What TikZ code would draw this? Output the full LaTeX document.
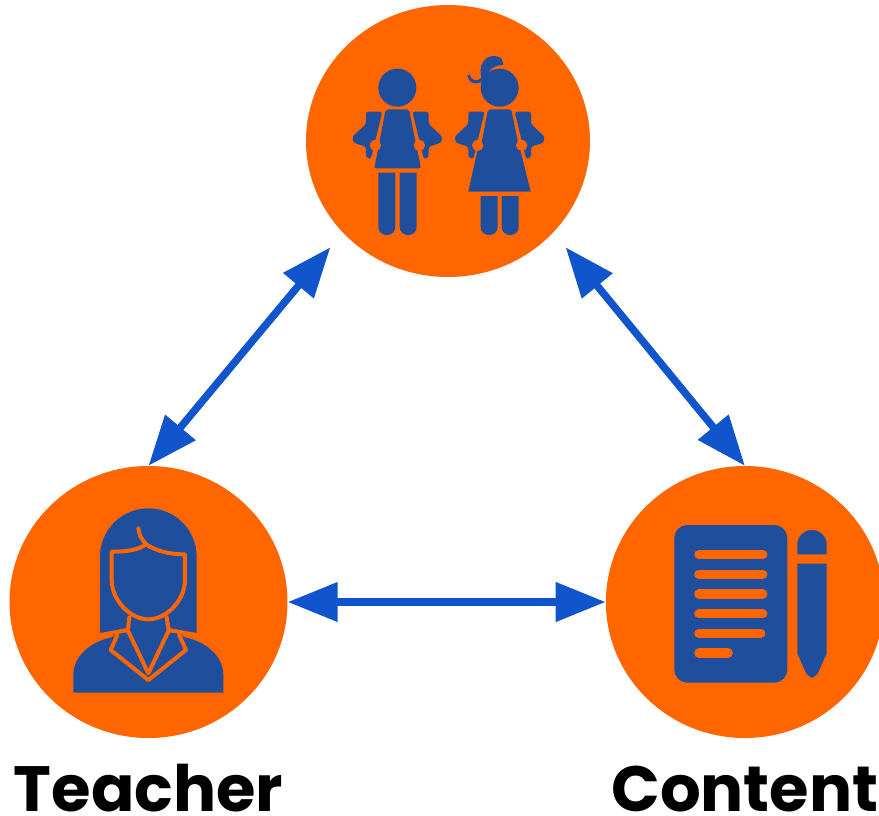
\documentclass[tikz,border=0pt]{standalone}
\usepackage{fontspec}
\setmainfont{Poppins}
\usetikzlibrary{arrows.meta,positioning,shapes.geometric}
\definecolor{hubColor}{RGB}{255,102,0}
\definecolor{iconColor}{RGB}{31,78,156}
\definecolor{arrowColor}{RGB}{17,85,204}
\begin{document}
\begin{tikzpicture}[x=1pt,y=-1pt]
    \tikzstyle{hub} = [ellipse,fill=hubColor,inner sep=0pt,minimum width=278pt,minimum height=272pt]
    \tikzstyle{hubname} = [inner sep=0pt,text height=46pt,text depth=0pt,font=\fontsize{64}{64}\selectfont\bfseries]
    \tikzstyle{link} = [draw=arrowColor,line width=7.5pt,<->]
    \tikzstyle{icon} = [fill=iconColor]
    \tikzstyle{cut} = [draw=hubColor,line width=4pt,line cap=round,line join=round]
    \tikzset{>={Triangle[length=50pt,width=38pt]}}
    \useasboundingbox (0,0) rectangle (879,815);

    \node [hub,minimum width=284pt] (students) at (448,141) {};
    \node [hub] (teacher) at (148.5,602) {};
    \node [hub, right=318pt of teacher] (content) {};

    \node [hubname, below=27pt of teacher] (teachername) {Teacher};
    \node [hubname, below=27pt of content] (contentname) {Content};

    \draw [link] (teacher.north) -- ([shift={(-14,13)}]students.222);
    \draw [link] (content.north) -- ([shift={(14,13)}]students.318);
    \draw [link] (teacher.east) -- (content.west);

    % boy and girl share the upper body
    \foreach \dx in {0,307} {
      \begin{scope}[shift={(340,40)},scale=1/3,xshift=\dx]
        \fill [icon] (172,143) circle (57);
        \fill [icon,rounded corners=2.5pt] (78,215) -- (127,215) -- (98,335) -- (92,358) -- (78,352) -- (78,320) -- (40,308) -- (37,290) -- (78,252) -- cycle;
        \fill [icon,rounded corners=2.5pt] (266,215) -- (217,215) -- (246,335) -- (252,358) -- (266,352) -- (266,320) -- (304,308) -- (307,290) -- (266,252) -- cycle;
        \fill [icon,rounded corners=2pt] (137,208) -- (207,208) -- (243,385) -- (103,385) -- cycle;
      \end{scope}
    }

    \begin{scope}[shift={(340,40)},scale=1/3]
      % boy legs
      \foreach \lx in {115,179} {
        \fill [icon] (\lx,398) -- (\lx+51,398) [rounded corners=8pt] -- (\lx+51,585) -- (\lx,585) [sharp corners] -- cycle;
      }
      % girl dress, legs and hair
      \fill [icon] (418,305) -- (535,305) -- (572,455) -- (385,455) -- cycle;
      \foreach \lx in {422,485} {
        \fill [icon] (\lx,468) -- (\lx+51,468) [rounded corners=8pt] -- (\lx+51,585) -- (\lx,585) [sharp corners] -- cycle;
      }
      \fill [icon] (430,128) .. controls (405,75) and (440,38) .. (475,50) .. controls (486,56) .. (490,75) .. controls (470,75) and (455,82) .. (447,95) -- cycle;
      \fill [icon] (382,105) .. controls (385,132) and (412,138) .. (428,122) -- (424,112) .. controls (410,128) and (395,122) .. (388,103) -- cycle;
      % straps
      \foreach \sx in {106,238,413,545} {
        \fill [hubColor] (\sx,316) circle (17);
      }
    \end{scope}

    \begin{scope}[shift={(60,500)},scale=1/3]
      \fill [icon] (120,405) -- (120,170) arc[start angle=180,end angle=360,radius=145] -- (410,405) -- cycle;
      \fill [icon] (40,578) -- (40,525) .. controls (40,470) and (90,425) .. (155,412) -- (200,390) -- (330,390) -- (375,412) .. controls (440,425) and (490,470) .. (490,525) -- (490,578) -- cycle;
      \draw [cut] (235,85) .. controls (240,110) .. (258,133);
      \draw [cut] (155,155) .. controls (200,155) and (235,150) .. (258,133) .. controls (285,150) and (320,163) .. (375,163) -- (375,240) .. controls (375,300) and (320,358) .. (265,358) .. controls (210,358) and (155,300) .. (155,240) -- cycle;
      \draw [cut] (208,352) -- (203,395);
      \draw [cut] (320,352) -- (327,395);
      \draw [cut] (120,405) -- (203,390) -- (265,520) -- (327,390) -- (410,405);
      \draw [cut] (172,405) -- (152,450) -- (265,540) -- (378,450) -- (358,405);
    \end{scope}

    \begin{scope}[shift={(660,510)},scale=1/3]
      \fill [icon,rounded corners=13pt] (43,45) rectangle (382,518);
      \foreach \ly/\lx in {134/308,193/308,252/308,311/308,370/302,429/204} {
        \draw [hubColor,line width=9.6pt,line cap=round] (117,\ly) -- (\lx,\ly);
      }
      \fill [icon] (412,133) -- (412,104) arc[start angle=180,end angle=360,radius=44] -- (500,133) -- cycle;
      \fill [icon] (412,161) -- (500,161) -- (500,430) [rounded corners=6pt] -- (468,503) -- (444,503) [sharp corners] -- (412,430) -- cycle;
    \end{scope}
\end{tikzpicture}
\end{document}
